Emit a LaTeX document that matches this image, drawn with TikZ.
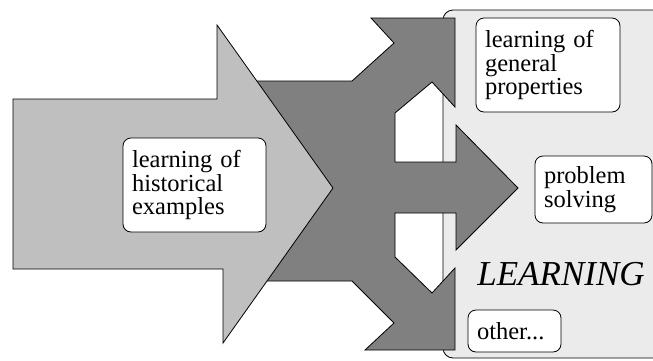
\documentclass[tikz,border=0pt]{standalone}
\usepackage{fontspec}
\setmainfont{Liberation Serif}
\usepackage{tikz}

\begin{document}
\begin{tikzpicture}[x=1pt, y=-1pt, line width=0.8pt,
  tag/.style={draw, fill=white, rounded corners=8pt, align=left,
    inner xsep=9pt, inner ysep=0pt, font=\fontsize{24.5}{23.3}\selectfont}]
  \useasboundingbox (0,0) rectangle (653,360);
  \clip (0,0) rectangle (653,360);
  \draw[fill=black!8, rounded corners=10pt] (443,10) rectangle (670,358);
  \draw[fill=black!50] (250,81) -- (352,81) -- (394,43) -- (371,18) -- (455,18)
    -- (455,107) -- (432,82) -- (395,113) -- (395,162) -- (456,162) -- (456,125)
    -- (518,188) -- (456,250) -- (456,213) -- (395,213) -- (395,257) -- (432,293)
    -- (455,268) -- (455,350) -- (365,350) -- (394,323) -- (352,281) -- (250,281) -- cycle;
  \draw[fill=black!25] (13,99) -- (217,99) -- (217,25) -- (333,188) -- (223,343)
    -- (223,269) -- (13,269) -- cycle;
  \node[tag, text width=125pt, minimum height=94pt] (hist) at (194.5,185) {learning of\\historical\\examples};
  \node[tag, text width=126pt, minimum height=94pt] (general) at (548,65) {learning of\\general\\properties};
  \node[tag, text width=99pt, minimum height=67pt] (solving) at (593.5,189.5) {problem\\solving};
  \node[tag, text width=75pt, minimum height=42pt] (other) at (514.5,331) {other...};
  \node[anchor=base, font=\fontsize{35}{35}\selectfont\itshape] (learning) at (561,285) {LEARNING};
\end{tikzpicture}
\end{document}
